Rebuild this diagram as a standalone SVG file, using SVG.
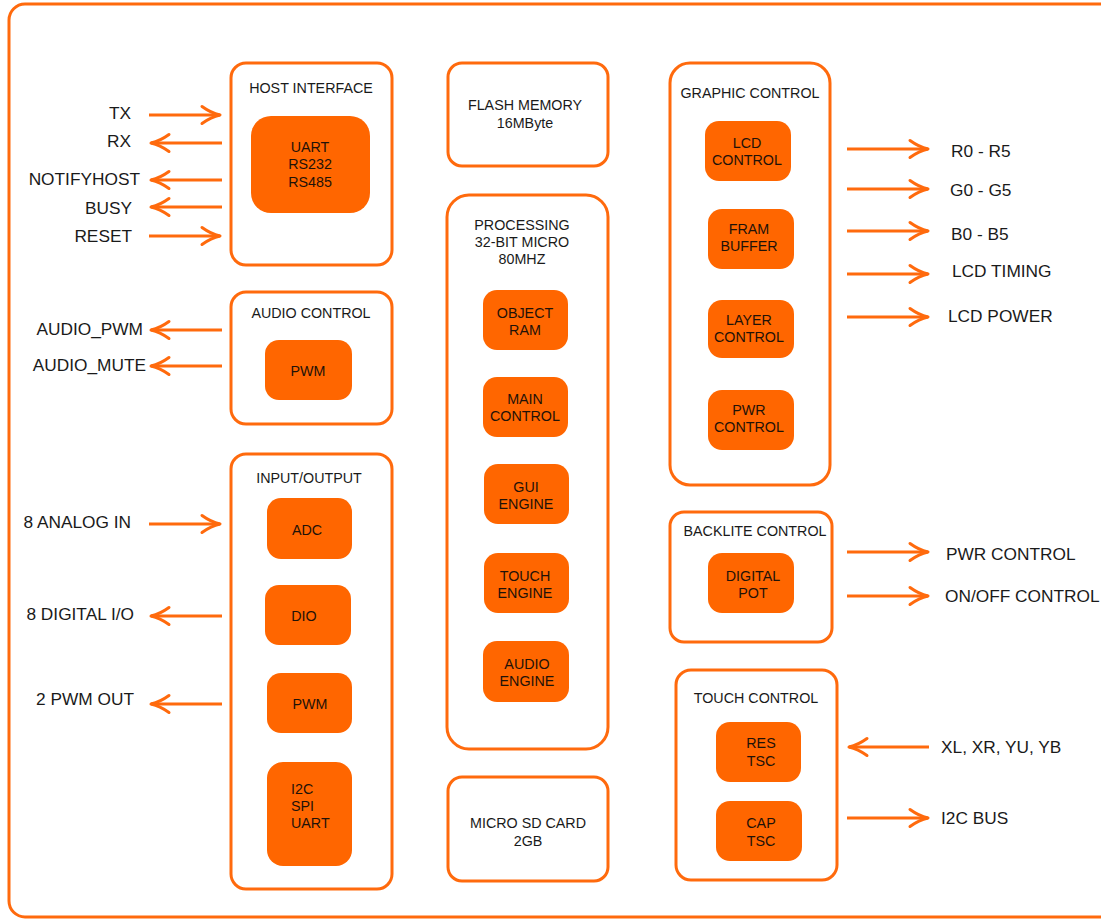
<svg xmlns="http://www.w3.org/2000/svg" width="1101" height="920" viewBox="0 0 1101 920">
<defs>
<style>
.frame{fill:#fff;stroke:#ff6a0d;stroke-width:3}
.box{fill:#fff;stroke:#ff6a0d;stroke-width:3}
.blk{fill:#ff6600;stroke:none}
.t{font-family:"Liberation Sans",Arial,sans-serif;fill:#1a1a1a}
.title{font-size:14.3px;text-anchor:middle}
.in{font-size:14.3px;text-anchor:middle;fill:#1f1208}
.lbl{font-size:17.3px}
.r{text-anchor:end}
.wire{stroke:#ff6a0d;stroke-width:3;fill:none}
</style>
<marker id="ah" markerUnits="userSpaceOnUse" markerWidth="26" markerHeight="22" refX="21" refY="11" orient="auto">
<path d="M3,2.5 Q12,9 21,11 Q12,13 3,19.5" fill="none" stroke="#ff6a0d" stroke-width="3" stroke-linecap="round" stroke-linejoin="round"/>
</marker>
</defs>
<rect width="1101" height="920" fill="#fff"/>
<rect class="frame" x="9" y="4" width="1110" height="913" rx="16"/>

<g id="host">
<rect class="box" x="231" y="63" width="161" height="202" rx="15"/>
<text class="t title" x="311" y="93">HOST INTERFACE</text>
<rect class="blk" x="251" y="116" width="119" height="97" rx="20"/>
<text class="t in" x="310" y="152">UART</text>
<text class="t in" x="310" y="169">RS232</text>
<text class="t in" x="310" y="187">RS485</text>
</g>

<g id="audio">
<rect class="box" x="231" y="292" width="161" height="132" rx="15"/>
<text class="t title" x="311" y="318">AUDIO CONTROL</text>
<rect class="blk" x="265" y="340" width="87" height="60" rx="14"/>
<text class="t in" x="308" y="376">PWM</text>
</g>

<g id="io">
<rect class="box" x="231" y="454" width="161" height="435" rx="15"/>
<text class="t title" x="309" y="483">INPUT/OUTPUT</text>
<rect class="blk" x="267" y="498" width="85" height="61" rx="14"/>
<text class="t in" x="307" y="535">ADC</text>
<rect class="blk" x="265" y="585" width="86" height="60" rx="14"/>
<text class="t in" x="304" y="621">DIO</text>
<rect class="blk" x="267" y="673" width="85" height="60" rx="14"/>
<text class="t in" x="310" y="709">PWM</text>
<rect class="blk" x="267" y="762" width="85" height="104" rx="16"/>
<text class="t in" x="291" y="794" style="text-anchor:start">I2C</text>
<text class="t in" x="291" y="811" style="text-anchor:start">SPI</text>
<text class="t in" x="291" y="828" style="text-anchor:start">UART</text>
</g>

<g id="flash">
<rect class="box" x="448" y="63" width="160" height="103" rx="14"/>
<text class="t title" x="525" y="110">FLASH MEMORY</text>
<text class="t title" x="525" y="128">16MByte</text>
</g>

<g id="proc">
<rect class="box" x="447" y="195" width="161" height="554" rx="22"/>
<text class="t title" x="522" y="230">PROCESSING</text>
<text class="t title" x="522" y="247">32-BIT MICRO</text>
<text class="t title" x="522" y="264">80MHZ</text>
<rect class="blk" x="483" y="290" width="85" height="60" rx="14"/>
<text class="t in" x="525" y="318">OBJECT</text>
<text class="t in" x="525" y="335">RAM</text>
<rect class="blk" x="483" y="377" width="85" height="60" rx="14"/>
<text class="t in" x="525" y="404">MAIN</text>
<text class="t in" x="525" y="421">CONTROL</text>
<rect class="blk" x="484" y="464" width="85" height="60" rx="14"/>
<text class="t in" x="526" y="492">GUI</text>
<text class="t in" x="526" y="509">ENGINE</text>
<rect class="blk" x="484" y="553" width="85" height="60" rx="14"/>
<text class="t in" x="525" y="581">TOUCH</text>
<text class="t in" x="525" y="598">ENGINE</text>
<rect class="blk" x="483" y="641" width="86" height="61" rx="14"/>
<text class="t in" x="527" y="669">AUDIO</text>
<text class="t in" x="527" y="686">ENGINE</text>
</g>

<g id="sd">
<rect class="box" x="448" y="777" width="160" height="104" rx="14"/>
<text class="t title" x="528" y="828">MICRO SD CARD</text>
<text class="t title" x="528" y="846">2GB</text>
</g>

<g id="graphic">
<rect class="box" x="670" y="63" width="160" height="422" rx="20"/>
<text class="t title" x="750" y="98">GRAPHIC CONTROL</text>
<rect class="blk" x="705" y="121" width="86" height="60" rx="14"/>
<text class="t in" x="747" y="148">LCD</text>
<text class="t in" x="747" y="165">CONTROL</text>
<rect class="blk" x="708" y="209" width="86" height="60" rx="14"/>
<text class="t in" x="749" y="234">FRAM</text>
<text class="t in" x="749" y="251">BUFFER</text>
<rect class="blk" x="708" y="300" width="86" height="58" rx="14"/>
<text class="t in" x="749" y="325">LAYER</text>
<text class="t in" x="749" y="342">CONTROL</text>
<rect class="blk" x="708" y="390" width="86" height="60" rx="14"/>
<text class="t in" x="749" y="415">PWR</text>
<text class="t in" x="749" y="432">CONTROL</text>
</g>

<g id="backlite">
<rect class="box" x="670" y="512" width="162" height="130" rx="14"/>
<text class="t title" x="755" y="536">BACKLITE CONTROL</text>
<rect class="blk" x="708" y="553" width="86" height="60" rx="14"/>
<text class="t in" x="753" y="581">DIGITAL</text>
<text class="t in" x="753" y="598">POT</text>
</g>

<g id="touch">
<rect class="box" x="676" y="670" width="161" height="210" rx="15"/>
<text class="t title" x="756" y="703">TOUCH CONTROL</text>
<rect class="blk" x="716" y="722" width="85" height="60" rx="14"/>
<text class="t in" x="761" y="748">RES</text>
<text class="t in" x="761" y="766">TSC</text>
<rect class="blk" x="716" y="801" width="86" height="60" rx="14"/>
<text class="t in" x="761" y="828">CAP</text>
<text class="t in" x="761" y="846">TSC</text>
</g>

<g id="connectors">
<line class="wire" x1="149" y1="115" x2="220" y2="115" marker-end="url(#ah)"/>
<line class="wire" x1="222" y1="143" x2="151" y2="143" marker-end="url(#ah)"/>
<line class="wire" x1="222" y1="180" x2="151" y2="180" marker-end="url(#ah)"/>
<line class="wire" x1="222" y1="207" x2="151" y2="207" marker-end="url(#ah)"/>
<line class="wire" x1="149" y1="236" x2="220" y2="236" marker-end="url(#ah)"/>
<line class="wire" x1="222" y1="330" x2="151" y2="330" marker-end="url(#ah)"/>
<line class="wire" x1="222" y1="366" x2="151" y2="366" marker-end="url(#ah)"/>
<line class="wire" x1="149" y1="524" x2="220" y2="524" marker-end="url(#ah)"/>
<line class="wire" x1="222" y1="616" x2="151" y2="616" marker-end="url(#ah)"/>
<line class="wire" x1="222" y1="704" x2="151" y2="704" marker-end="url(#ah)"/>
<line class="wire" x1="847" y1="149" x2="928" y2="149" marker-end="url(#ah)"/>
<line class="wire" x1="847" y1="189" x2="928" y2="189" marker-end="url(#ah)"/>
<line class="wire" x1="847" y1="231" x2="928" y2="231" marker-end="url(#ah)"/>
<line class="wire" x1="847" y1="274" x2="928" y2="274" marker-end="url(#ah)"/>
<line class="wire" x1="847" y1="317" x2="928" y2="317" marker-end="url(#ah)"/>
<line class="wire" x1="847" y1="552" x2="928" y2="552" marker-end="url(#ah)"/>
<line class="wire" x1="847" y1="596" x2="928" y2="596" marker-end="url(#ah)"/>
<line class="wire" x1="929" y1="747" x2="849" y2="747" marker-end="url(#ah)"/>
<line class="wire" x1="847" y1="818" x2="928" y2="818" marker-end="url(#ah)"/>
</g>

<g id="labels">
<text class="t lbl r" x="131" y="119">TX</text>
<text class="t lbl r" x="131" y="147">RX</text>
<text class="t lbl r" x="140" y="185">NOTIFYHOST</text>
<text class="t lbl r" x="132" y="214">BUSY</text>
<text class="t lbl r" x="132" y="242">RESET</text>
<text class="t lbl r" x="143" y="335">AUDIO_PWM</text>
<text class="t lbl r" x="146" y="371">AUDIO_MUTE</text>
<text class="t lbl r" x="131" y="528">8 ANALOG IN</text>
<text class="t lbl r" x="134" y="620">8 DIGITAL I/O</text>
<text class="t lbl r" x="134" y="705">2 PWM OUT</text>
<text class="t lbl" x="951" y="157">R0 - R5</text>
<text class="t lbl" x="950" y="196">G0 - G5</text>
<text class="t lbl" x="951" y="240">B0 - B5</text>
<text class="t lbl" x="952" y="277">LCD TIMING</text>
<text class="t lbl" x="948" y="322">LCD POWER</text>
<text class="t lbl" x="946" y="560">PWR CONTROL</text>
<text class="t lbl" x="945" y="602">ON/OFF CONTROL</text>
<text class="t lbl" x="941" y="753">XL, XR, YU, YB</text>
<text class="t lbl" x="941" y="824">I2C BUS</text>
</g>
</svg>
